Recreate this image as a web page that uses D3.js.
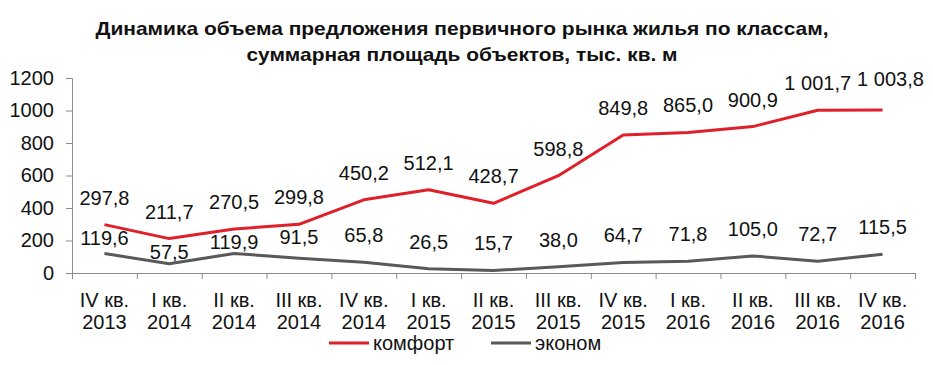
<!DOCTYPE html>
<html>
<head>
<meta charset="utf-8">
<script src="https://cdn.jsdelivr.net/npm/d3@7"></script>
<style>
  body { margin: 0; background: #fff; }
  svg { display: block; font-family: "Liberation Sans", Arial, sans-serif; }
</style>
</head>
<body>
<svg id="chart" width="933" height="365"></svg>
<script>
const quarters = ["IV кв.", "I кв.", "II кв.", "III кв.", "IV кв.", "I кв.", "II кв.", "III кв.", "IV кв.", "I кв.", "II кв.", "III кв.", "IV кв."];
const years = ["2013", "2014", "2014", "2014", "2014", "2015", "2015", "2015", "2015", "2016", "2016", "2016", "2016"];
const comfort = [297.8, 211.7, 270.5, 299.8, 450.2, 512.1, 428.7, 598.8, 849.8, 865.0, 900.9, 1001.7, 1003.8];
const econom = [119.6, 57.5, 119.9, 91.5, 65.8, 26.5, 15.7, 38.0, 64.7, 71.8, 105.0, 72.7, 115.5];
const yTicks = [0, 200, 400, 600, 800, 1000, 1200];
const seriesNames = ["комфорт", "эконом"];
const seriesColors = ["#df1f29", "#595959"];
const titleLines = [
  "Динамика объема предложения первичного рынка жилья по классам,",
  "суммарная площадь объектов, тыс. кв. м"
];

const svg = d3.select("#chart");
const margin = { top: 78, right: 18, bottom: 92, left: 72 };
const width = 933, height = 365;
const innerWidth = width - margin.left - margin.right;
const innerHeight = height - margin.top - margin.bottom;

const idx = d3.range(quarters.length);
const x = d3.scaleBand().domain(idx).range([0, innerWidth]);
const xEdge = d3.scaleLinear().domain([0, quarters.length]).range([0, innerWidth]);
const y = d3.scaleLinear().domain([0, 1200]).range([innerHeight, 0]);
const cx = (i) => x(i) + x.bandwidth() / 2;

const fmt = (v) => {
  const [intPart, dec] = v.toFixed(1).split(".");
  const grouped = intPart.replace(/\B(?=(\d{3})+(?!\d))/g, " ");
  return grouped + "," + dec;
};

// title
svg.append("g")
  .selectAll("text")
  .data(titleLines)
  .join("text")
  .attr("x", 462)
  .attr("y", (d, i) => 35 + i * 26)
  .attr("text-anchor", "middle")
  .attr("font-family", "'Liberation Sans Narrow', 'Liberation Sans', Arial, sans-serif")
  .attr("font-weight", "bold")
  .attr("font-size", "19px")
  .attr("textLength", (d, i) => (i === 0 ? 733 : 431))
  .attr("lengthAdjust", "spacingAndGlyphs")
  .attr("fill", "#111")
  .text((d) => d);

const root = svg.append("g").attr("transform", `translate(${margin.left},${margin.top})`);

// y axis
const yAxis = root.append("g")
  .call(d3.axisLeft(y).tickValues(yTicks).tickSize(6).tickPadding(12).tickFormat(d3.format("d")));
yAxis.selectAll("text").attr("font-size", "20px").attr("fill", "#111").attr("font-family", "'Liberation Sans', Arial, sans-serif");
yAxis.selectAll("line, path").attr("stroke", "#8c8c8c");

// x axis: ticks on category boundaries
const xAxis = root.append("g")
  .attr("transform", `translate(0,${innerHeight})`)
  .call(d3.axisBottom(xEdge).tickValues(d3.range(quarters.length + 1)).tickSize(6).tickFormat(""));
xAxis.selectAll("line, path").attr("stroke", "#8c8c8c");

// x labels, two lines
const xLabels = root.append("g")
  .selectAll("text")
  .data(idx)
  .join("text")
  .attr("x", (i) => cx(i))
  .attr("y", innerHeight + 34)
  .attr("text-anchor", "middle")
  .attr("font-size", "20px")
  .attr("fill", "#111");
xLabels.append("tspan").attr("x", (i) => cx(i)).attr("y", innerHeight + 34).text((i) => quarters[i]);
xLabels.append("tspan").attr("x", (i) => cx(i)).attr("y", innerHeight + 56).text((i) => years[i]);

// lines
const series = [comfort, econom];
const line = d3.line().x((d, i) => cx(i)).y((d) => y(d));
root.append("g")
  .selectAll("path")
  .data(series)
  .join("path")
  .attr("d", (d) => line(d))
  .attr("fill", "none")
  .attr("stroke", (d, i) => seriesColors[i])
  .attr("stroke-width", 3)
  .attr("stroke-linejoin", "round");

// data labels: comfort above its point; econom above its point but kept below comfort's labels
const labelGroup = root.append("g");

const comfortLabels = labelGroup.selectAll("text.comfort")
  .data(comfort)
  .join("text")
  .attr("class", "comfort")
  .attr("x", (d, i) => cx(i))
  .attr("y", (d) => y(d) - 20)
  .attr("text-anchor", "middle")
  .attr("font-size", "20px")
  .attr("fill", "#111")
  .text((d) => fmt(d));

// nudge a label right/up if it runs into the previous one
let prevBox = null;
comfortLabels.each(function () {
  const box = this.getBBox();
  if (prevBox && box.x < prevBox.x + prevBox.width + 6 && box.y < prevBox.y + prevBox.height) {
    const shift = prevBox.x + prevBox.width + 6 - box.x;
    d3.select(this)
      .attr("x", +d3.select(this).attr("x") + shift)
      .attr("y", +d3.select(this).attr("y") - 4);
  }
  prevBox = this.getBBox();
});

labelGroup.selectAll("text.econom")
  .data(econom)
  .join("text")
  .attr("class", "econom")
  .attr("x", (d, i) => cx(i))
  .attr("y", (d, i) => Math.max(y(d) - 20, y(comfort[i]) + 20))
  .attr("text-anchor", "middle")
  .attr("font-size", "20px")
  .attr("fill", "#111")
  .text((d) => fmt(d));

// legend
const legend = svg.append("g").attr("transform", "translate(329,343)");
const items = legend.selectAll("g")
  .data(seriesNames)
  .join("g")
  .attr("transform", (d, i) => `translate(${i * 162},0)`);
items.append("line")
  .attr("x1", 0).attr("x2", 40)
  .attr("stroke", (d, i) => seriesColors[i])
  .attr("stroke-width", 3);
items.append("text")
  .attr("x", 44)
  .attr("y", 7)
  .attr("font-size", "20px")
  .attr("fill", "#111")
  .text((d) => d);
</script>
</body>
</html>
